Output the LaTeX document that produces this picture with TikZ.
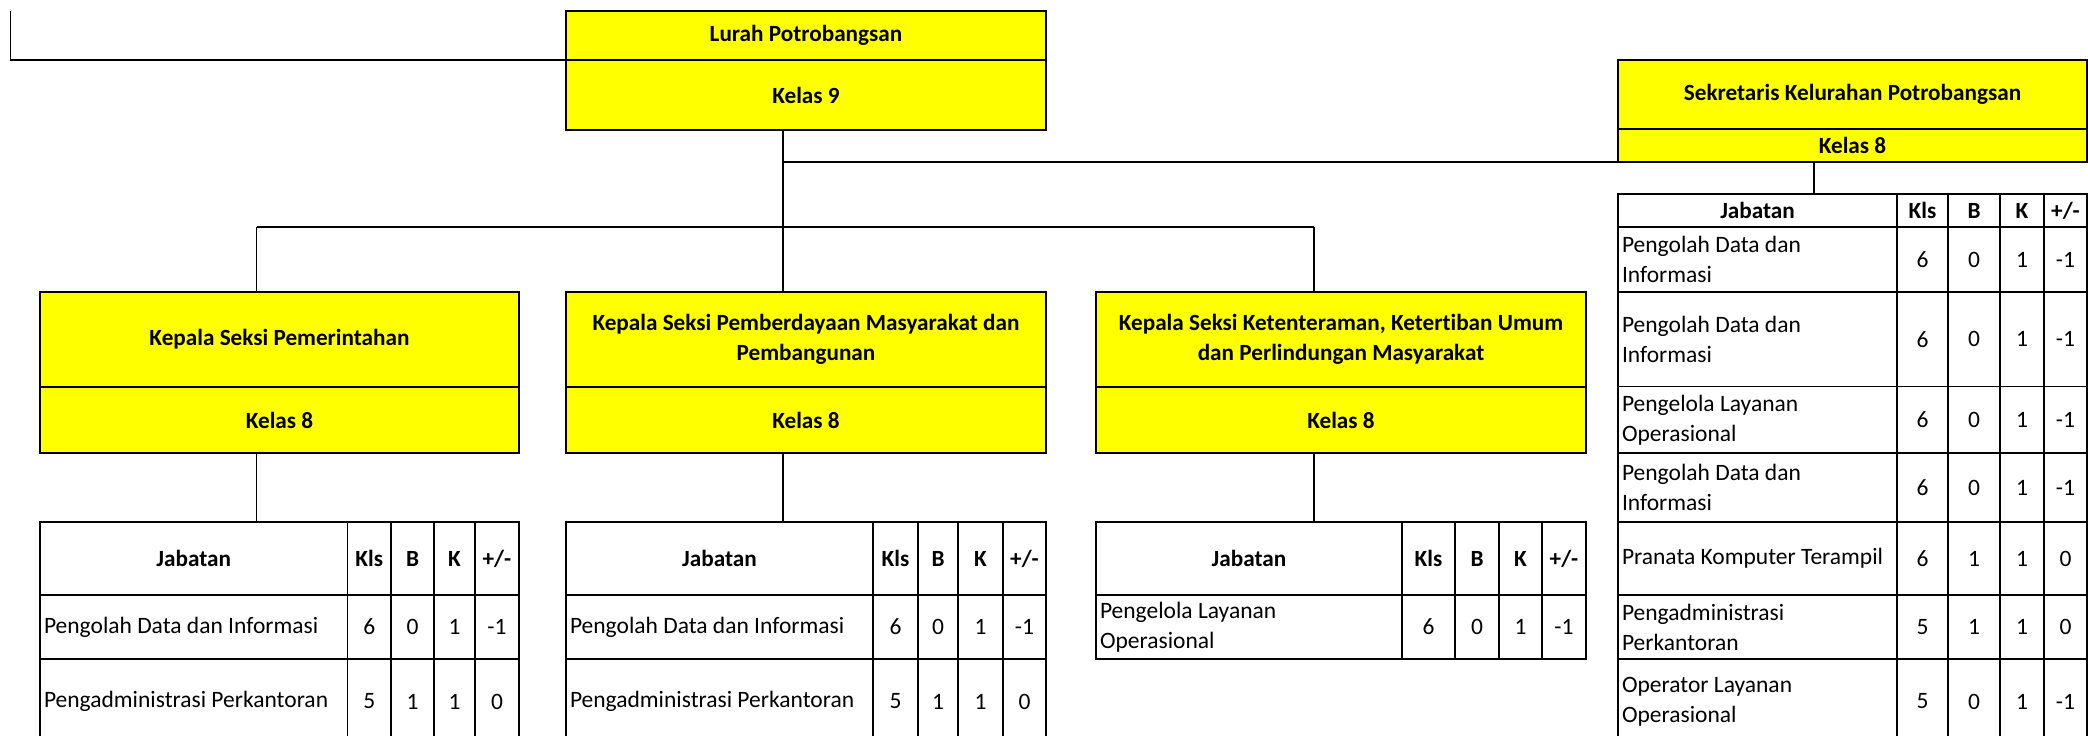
\documentclass[tikz,border=0pt]{standalone}
\usepackage{fontspec}
\setmainfont{Carlito}[Ligatures=NoCommon]
\definecolor{xlyellow}{RGB}{255,255,0}
\newcommand\cellat[7]{% name, x1, y1, x2, y2, style, text
  \pgfmathsetmacro\cellw{#4-#2}\pgfmathsetmacro\cellh{#5-#3}\pgfmathsetmacro\celltw{#4-#2-8}%
  \node[#6, minimum width=\cellw pt, minimum height=\cellh pt, text width=\celltw pt] (#1) at (#2,#3) {#7};}
\newcommand\trow[8]{% name, y1, y2, jabatan, kls, b, k, pm
  \cellat{#1j}{\cA}{#2}{\cB}{#3}{tcell}{#4}%
  \cellat{#1k}{\cB}{#2}{\cC}{#3}{ncell}{#5}%
  \cellat{#1b}{\cC}{#2}{\cD}{#3}{ncell}{#6}%
  \cellat{#1c}{\cD}{#2}{\cE}{#3}{ncell}{#7}%
  \cellat{#1p}{\cE}{#2}{\cF}{#3}{ncell}{#8}}
\newcommand\hrow[3]{% name, y1, y2
  \cellat{#1j}{\cA}{#2}{\cB}{#3}{hcell}{Jabatan}%
  \cellat{#1k}{\cB}{#2}{\cC}{#3}{hcell}{Kls}%
  \cellat{#1b}{\cC}{#2}{\cD}{#3}{hcell}{B}%
  \cellat{#1c}{\cD}{#2}{\cE}{#3}{hcell}{K}%
  \cellat{#1p}{\cE}{#2}{\cF}{#3}{hcell}{+/-}}
\newcommand\setcols[6]{\def\cA{#1}\def\cB{#2}\def\cC{#3}\def\cD{#4}\def\cE{#5}\def\cF{#6}}
\begin{document}
\begin{tikzpicture}[x=1pt,y=-1pt]
\tikzset{
  cellbase/.style={draw=black, line width=1.8pt, inner sep=0pt, outer sep=0pt, anchor=north west,
    font=\fontsize{23.5}{30}\selectfont},
  ybox/.style={cellbase, line width=1.1pt, fill=xlyellow, font=\fontsize{23.2}{30}\selectfont\bfseries, align=flush center},
  yframe/.style={draw=black, line width=2pt},
  hcell/.style={cellbase, font=\fontsize{23.2}{30}\selectfont\bfseries, align=flush center},
  ncell/.style={cellbase, align=flush center},
  tcell/.style={cellbase, align=flush left},
  conn/.style={line width=1.6pt, draw=black},
}
\useasboundingbox (0,0) rectangle (2088,736);

% Lurah
\cellat{lurahT}{566}{11}{1046}{60}{ybox}{Lurah Potrobangsan}
\cellat{lurahK}{566}{60}{1046}{130}{ybox}{Kelas 9}
\draw[yframe] (lurahT.north west) rectangle (lurahK.south east);
% Sekretaris
\cellat{sekT}{1618}{60}{2087}{129}{ybox}{Sekretaris Kelurahan Potrobangsan}
\cellat{sekK}{1618}{129}{2087}{162}{ybox}{Kelas 8}
\draw[yframe] (sekT.north west) rectangle (sekK.south east);
% Kepala Seksi boxes
\cellat{p1T}{40}{292}{519}{387}{ybox}{Kepala Seksi Pemerintahan}
\cellat{p1K}{40}{387}{519}{453}{ybox}{Kelas 8}
\draw[yframe] (p1T.north west) rectangle (p1K.south east);
\cellat{p2T}{566}{292}{1046}{387}{ybox}{Kepala Seksi Pemberdayaan Masyarakat dan\\Pembangunan}
\cellat{p2K}{566}{387}{1046}{453}{ybox}{Kelas 8}
\draw[yframe] (p2T.north west) rectangle (p2K.south east);
\cellat{p3T}{1096}{292}{1586}{387}{ybox}{Kepala Seksi Ketenteraman, Ketertiban Umum\\dan Perlindungan Masyarakat}
\cellat{p3K}{1096}{387}{1586}{453}{ybox}{Kelas 8}
\draw[yframe] (p3T.north west) rectangle (p3K.south east);

% Table 1
\setcols{40}{347.5}{391}{434}{475}{519}
\hrow{t1h}{522}{595}
\trow{t1a}{595}{659}{Pengolah Data dan Informasi}{6}{0}{1}{-1}
\trow{t1b}{659}{744}{Pengadministrasi Perkantoran}{5}{1}{1}{0}
% Table 2
\setcols{566}{873}{918}{958}{1003}{1046}
\hrow{t2h}{522}{595}
\trow{t2a}{595}{659}{Pengolah Data dan Informasi}{6}{0}{1}{-1}
\trow{t2b}{659}{744}{Pengadministrasi Perkantoran}{5}{1}{1}{0}
% Table 3
\setcols{1096}{1402}{1455}{1499}{1542}{1586}
\hrow{t3h}{522}{595}
\trow{t3a}{595}{659}{Pengelola Layanan\\Operasional}{6}{0}{1}{-1}
% Sekretaris table
\setcols{1618}{1897}{1948}{2000}{2044}{2087}
\hrow{tsh}{194}{227}
\trow{tsa}{227}{292}{Pengolah Data dan\\Informasi}{6}{0}{1}{-1}
\trow{tsb}{292}{386.5}{Pengolah Data dan\\Informasi}{6}{0}{1}{-1}
\trow{tsc}{386.5}{453}{Pengelola Layanan\\Operasional}{6}{0}{1}{-1}
\trow{tsd}{453}{522}{Pengolah Data dan\\Informasi}{6}{0}{1}{-1}
\trow{tse}{522}{595}{Pranata Komputer Terampil}{6}{1}{1}{0}
\trow{tsf}{595}{659}{Pengadministrasi\\Perkantoran}{5}{1}{1}{0}
\trow{tsg}{659}{744}{Operator Layanan\\Operasional}{5}{0}{1}{-1}

% connectors
\coordinate (L0) at (10.5,11);
\coordinate (J) at (783,227);
\coordinate (S) at (783,162);
\coordinate (B1) at (256.5,227);
\coordinate (B3) at (1314,227);
\coordinate (SX) at (1814,0);
\draw[conn] (L0) |- (lurahT.south west);
\draw[conn] (lurahK.south -| J) -- (J);
\draw[conn] (S) -- (sekK.south west);
\draw[conn] (B1) -- (B3);
\draw[conn] (B1) -- (p1T.north -| B1);
\draw[conn] (J) -- (p2T.north -| J);
\draw[conn] (B3) -- (p3T.north -| B3);
\draw[conn] (p1K.south -| B1) -- (t1hj.north -| B1);
\draw[conn] (p2K.south -| J) -- (t2hj.north -| J);
\draw[conn] (p3K.south -| B3) -- (t3hj.north -| B3);
\draw[conn] (sekK.south -| SX) -- (tshj.north -| SX);
\end{tikzpicture}
\end{document}
